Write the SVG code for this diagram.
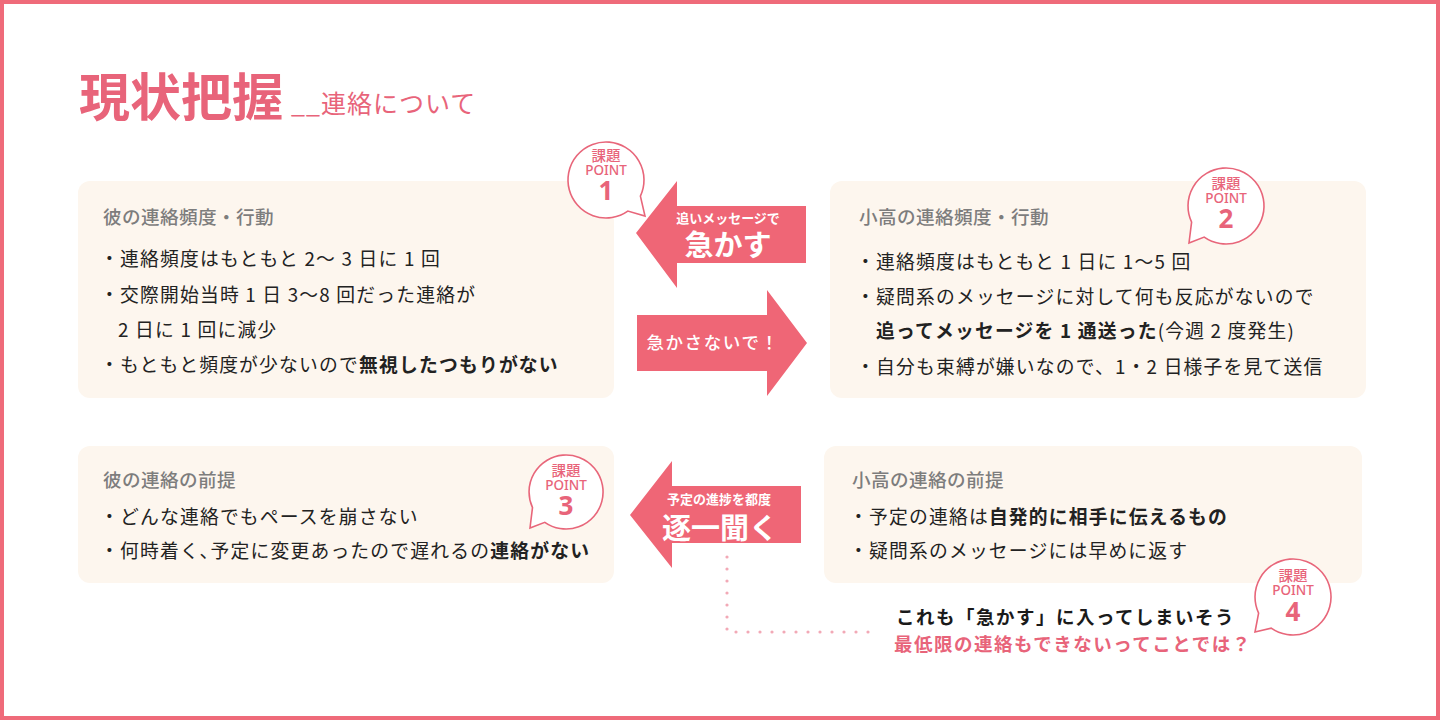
<svg xmlns="http://www.w3.org/2000/svg" width="1440" height="720" viewBox="0 0 1440 720">
<style>
text{font-family:"Noto Sans CJK JP","Noto Sans",sans-serif}
.panel{fill:#fdf6ee}
.head{font-size:18.6px;fill:#7d7d7d;font-weight:500;letter-spacing:0.4px}
.item{font-size:18.8px;fill:#222;letter-spacing:1.2px}
.b{font-weight:700}
.arrow{fill:#ef6676}
.wt{fill:#fff;text-anchor:middle;font-weight:700}
.bub{fill:#fff;stroke:#e8667a;stroke-width:1.6}
.bt{fill:#e8647a;text-anchor:middle}
.bs{font-size:14.5px;font-weight:500}
.bp{font-size:13.5px;font-weight:500;font-family:"Noto Sans",sans-serif}
.bn{font-size:26px;font-weight:700;font-family:"Noto Sans",sans-serif}
</style>
<rect x="2" y="2" width="1436" height="716" fill="#fff" stroke="#ef6b7a" stroke-width="4"/>
<g id="title">
<text x="79" y="116" font-size="51" font-weight="700" fill="#e8647a">現状把握</text>
<text x="291" y="113" font-size="25" fill="#e8647a" letter-spacing="1">__連絡について</text>
</g>
<g id="panel1">
<rect class="panel" x="78" y="181" width="536" height="217" rx="12"/>
<text class="head" x="103" y="224">彼の連絡頻度・行動</text>
<text class="item" x="100" y="266">・連絡頻度はもともと 2〜 3 日に 1 回</text>
<text class="item" x="100" y="302">・交際開始当時 1 日 3〜8 回だった連絡が</text>
<text class="item" x="118" y="337">2 日に 1 回に減少</text>
<text class="item" x="100" y="372">・もともと頻度が少ないので<tspan class="b">無視したつもりがない</tspan></text>
</g>
<g id="panel2">
<rect class="panel" x="830" y="181" width="536" height="217" rx="12"/>
<text class="head" x="859" y="224">小高の連絡頻度・行動</text>
<text class="item" x="856" y="269">・連絡頻度はもともと 1 日に 1〜5 回</text>
<text class="item" x="856" y="304">・疑問系のメッセージに対して何も反応がないので</text>
<text class="item" x="876" y="338"><tspan class="b">追ってメッセージを 1 通送った</tspan>(今週 2 度発生)</text>
<text class="item" x="856" y="374">・自分も束縛が嫌いなので、1・2 日様子を見て送信</text>
</g>
<g id="panel3">
<rect class="panel" x="78" y="446" width="536" height="137" rx="12"/>
<text class="head" x="103" y="487">彼の連絡の前提</text>
<text class="item" x="100" y="524">・どんな連絡でもペースを崩さない</text>
<text class="item" x="100" y="558">・何時着く､予定に変更あったので遅れるの<tspan class="b">連絡がない</tspan></text>
</g>
<g id="panel4">
<rect class="panel" x="824" y="446" width="538" height="137" rx="12"/>
<text class="head" x="852" y="487">小高の連絡の前提</text>
<text class="item" x="849" y="524">・予定の連絡は<tspan class="b">自発的に相手に伝えるもの</tspan></text>
<text class="item" x="849" y="558">・疑問系のメッセージには早めに返す</text>
</g>
<g id="connectors">
<g id="arrow1">
<path class="arrow" d="M636 233 L677 181 L677 206 L806 206 L806 263 L677 263 L677 288 Z"/>
<text class="wt" x="728" y="223" font-size="13">追いメッセージで</text>
<text class="wt" x="728" y="256" font-size="29">急かす</text>
</g>
<g id="arrow2">
<path class="arrow" d="M637 315 L767 315 L767 290 L807 343 L767 396 L767 371 L637 371 Z"/>
<text class="wt" x="713" y="349" font-size="17.5" style="font-weight:500" letter-spacing="1.6">急かさないで！</text>
</g>
<g id="arrow3">
<path class="arrow" d="M630 515 L672 461 L672 486 L801 486 L801 543 L672 543 L672 568 Z"/>
<text class="wt" x="719" y="504" font-size="13">予定の進捗を都度</text>
<text class="wt" x="720" y="539" font-size="29">逐一聞く</text>
</g>
<path d="M727 557 L727 632 L872 632" fill="none" stroke="#f2a9b6" stroke-width="3.2" stroke-linecap="round" stroke-dasharray="0 12"/>
</g>
<g id="bubble1">
<path class="bub" d="M627.8 211.1 A38 38 0 1 1 640.4 196.1 L645 216 Z"/>
<text class="bt bs" x="606" y="161">課題</text>
<text class="bt bp" x="606" y="175">POINT</text>
<text class="bt bn" x="606" y="200">1</text>
</g>
<g id="bubble2">
<path class="bub" d="M1191.6 222.1 A38 38 0 1 1 1204.2 237.1 L1189 243 Z"/>
<text class="bt bs" x="1226" y="189">課題</text>
<text class="bt bp" x="1226" y="203">POINT</text>
<text class="bt bn" x="1226" y="228">2</text>
</g>
<g id="bubble3">
<path class="bub" d="M532.5 507.6 A37 37 0 1 1 544.8 522.3 L530 528 Z"/>
<text class="bt bs" x="566" y="476">課題</text>
<text class="bt bp" x="566" y="490">POINT</text>
<text class="bt bn" x="566" y="515">3</text>
</g>
<g id="bubble4">
<path class="bub" d="M1258.6 613.1 A38 38 0 1 1 1271.2 628.1 L1255 632 Z"/>
<text class="bt bs" x="1293" y="581">課題</text>
<text class="bt bp" x="1293" y="595">POINT</text>
<text class="bt bn" x="1293" y="621">4</text>
</g>
<g id="note">
<text x="896" y="624" font-size="18.5" font-weight="700" fill="#1a1a1a" letter-spacing="1.5">これも「急かす」に入ってしまいそう</text>
<text x="894" y="651" font-size="18.5" font-weight="700" fill="#e8647a" letter-spacing="1.5">最低限の連絡もできないってことでは？</text>
</g>
</svg>
